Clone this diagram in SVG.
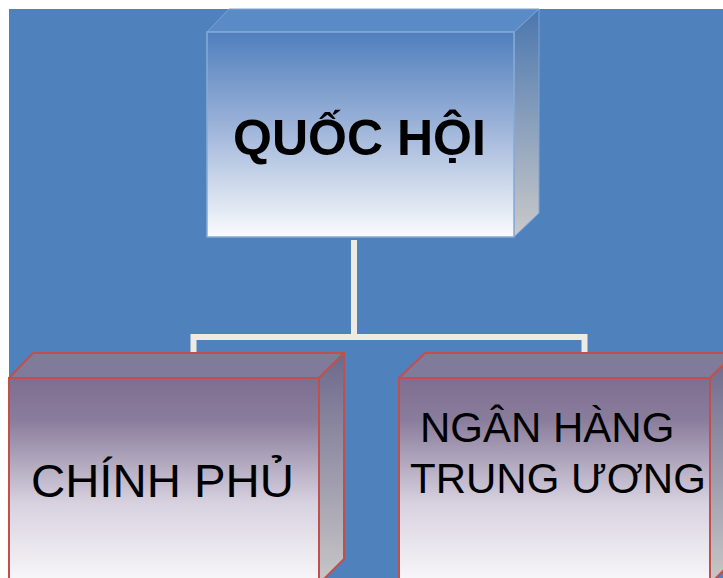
<svg xmlns="http://www.w3.org/2000/svg" width="723" height="578" viewBox="0 0 723 578">
  <defs>
    <linearGradient id="frontBlue" x1="0" y1="0" x2="0" y2="1">
      <stop offset="0" stop-color="#4F7FBD"/>
      <stop offset="0.45" stop-color="#9BB2D8"/>
      <stop offset="1" stop-color="#FAFBFD"/>
    </linearGradient>
    <linearGradient id="sideBlue" x1="0" y1="0" x2="0" y2="1">
      <stop offset="0" stop-color="#4A76AE"/>
      <stop offset="1" stop-color="#CACACA"/>
    </linearGradient>
    <linearGradient id="frontPurple" x1="0" y1="0" x2="0" y2="1">
      <stop offset="0" stop-color="#7E6E90"/>
      <stop offset="0.2" stop-color="#8A7D9C"/>
      <stop offset="0.6" stop-color="#D8D2E0"/>
      <stop offset="1" stop-color="#FAFAFB"/>
    </linearGradient>
    <linearGradient id="sidePurple" x1="0" y1="0" x2="0" y2="1">
      <stop offset="0" stop-color="#6C688C"/>
      <stop offset="1" stop-color="#C8C8C8"/>
    </linearGradient>
    <style>
      .top-blue { fill: #5B8BC7; stroke: #7EA3D4; stroke-width: 1; }
      .side-blue { fill: url(#sideBlue); stroke: #7EA3D4; stroke-width: 1; }
      .front-blue { fill: url(#frontBlue); stroke: #86AAD8; stroke-width: 1.5; }
      .top-purple { fill: #807A9B; stroke: #C0504D; stroke-width: 2; stroke-linejoin: round; }
      .side-purple { fill: url(#sidePurple); stroke: #C0504D; stroke-width: 2; stroke-linejoin: round; }
      .front-purple { fill: url(#frontPurple); stroke: #C0504D; stroke-width: 2; }
      .link { fill: none; stroke: #EEECE1; stroke-width: 6; }
      .label { font-family: "Liberation Sans", Arial, sans-serif; fill: #000000; }
    </style>
  </defs>

  <!-- page background -->
  <rect x="0" y="0" width="723" height="578" fill="#FFFFFF"/>
  <rect x="9" y="9" width="714" height="569" fill="#4F81BD"/>

  <!-- connectors -->
  <g id="connectors">
    <path class="link" d="M354,240 V337 M193.5,356 V337 H584.5 V356"/>
  </g>

  <!-- top node -->
  <g id="quoc-hoi">
    <polygon class="top-blue" points="207,32 229,9 539,9 514,32"/>
    <polygon class="side-blue" points="514,32 539,9 539,213 514,237"/>
    <rect class="front-blue" x="207" y="32" width="307" height="205"/>
    <text class="label" x="233" y="155" font-size="50" font-weight="bold">QUỐC HỘI</text>
  </g>

  <!-- left node -->
  <g id="chinh-phu">
    <polygon class="top-purple" points="9,378 33,353 344,353 319,378"/>
    <polygon class="side-purple" points="319,378 344,353 344,559 319,584"/>
    <rect class="front-purple" x="9" y="378" width="310" height="210"/>
    <text class="label" x="31" y="497" font-size="46" textLength="263" lengthAdjust="spacingAndGlyphs">CHÍNH PHỦ</text>
  </g>

  <!-- right node -->
  <g id="ngan-hang">
    <polygon class="top-purple" points="399,378 425,353 740,353 710,378"/>
    <polygon class="side-purple" points="710,378 735,353 735,559 710,584"/>
    <rect class="front-purple" x="399" y="378" width="311" height="210"/>
    <text class="label" font-size="42">
      <tspan x="420" y="442">NGÂN HÀNG</tspan>
      <tspan x="410" y="493">TRUNG ƯƠNG</tspan>
    </text>
  </g>
</svg>
